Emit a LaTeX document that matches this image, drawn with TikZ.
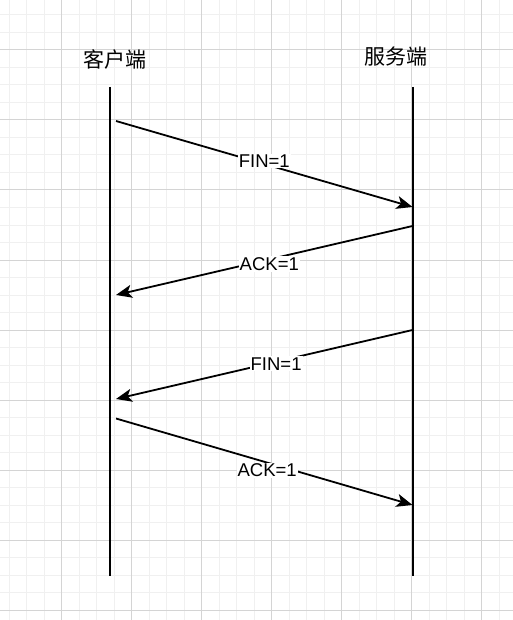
\documentclass[tikz,border=0pt]{standalone}
\usepackage{fontspec}
\setmainfont{Liberation Sans}
\newfontfamily\cjk{Noto Sans CJK SC}
\usetikzlibrary{arrows.meta}

\begin{document}
\begin{tikzpicture}[
      x=1pt,y=-1pt,
      minorgrid/.style={draw=black!6,line width=1pt},
      majorgrid/.style={draw=black!17,line width=1pt},
      lifeline/.style={draw=black,line width=2pt},
      party/.style={font=\cjk\fontsize{21}{25}\selectfont,inner sep=0pt},
      message/.style={-{Stealth[length=16pt,width=13pt,inset=4pt]},line width=1.8pt,draw=black},
      flag/.style={fill=white,font=\fontsize{18.5}{22}\selectfont,inner sep=1pt},
    ]
    \useasboundingbox (0,0) rectangle (513,620);

    % Background grid
    \fill[white] (0,0) rectangle (513,620);
    \foreach \k in {0,...,28} \draw[minorgrid] (9.2+17.5*\k,0) -- (9.2+17.5*\k,620);
    \foreach \k in {0,...,34} \draw[minorgrid] (0,15+17.5*\k) -- (513,15+17.5*\k);
    \foreach \k in {0,...,6} \draw[majorgrid] (61.7+70*\k,0) -- (61.7+70*\k,620);
    \foreach \k in {0,...,8} \draw[majorgrid] (0,50+70*\k) -- (513,50+70*\k);

    % Parties
    \node[party] (client) at (115,59) {客户端};
    \node[party] (server) at (396,57) {服务端};

    % Lifelines
    \coordinate (Ctop) at (110,87);
    \coordinate (Cbot) at (110,576);
    \coordinate (Stop) at (412.5,87);
    \coordinate (Sbot) at (412.5,576);
    \draw[lifeline] (Ctop) -- (Cbot);
    \draw[lifeline] (Stop) -- (Sbot);

    % Message ends
    \coordinate (C1) at (116,121);
    \coordinate (S1) at (412.5,207);
    \coordinate (S2) at (412.5,226);
    \coordinate (C2) at (116,295);
    \coordinate (S3) at (412.5,330);
    \coordinate (C3) at (116,399);
    \coordinate (C4) at (116,418.5);
    \coordinate (S4) at (412.5,505);

    % Messages
    \draw[message] (C1) -- node[flag,pos=0.5,yshift=3pt] (fin1) {FIN=1} (S1);
    \draw[message] (S2) -- node[flag,pos=0.483,yshift=-4.7pt] (ack1) {ACK=1} (C2);
    \draw[message] (S3) -- node[flag,pos=0.46,yshift=-2pt] (fin2) {FIN=1} (C3);
    \draw[message] (C4) -- node[flag,pos=0.51,yshift=-8pt] (ack2) {ACK=1} (S4);

  \end{tikzpicture}
\end{document}
